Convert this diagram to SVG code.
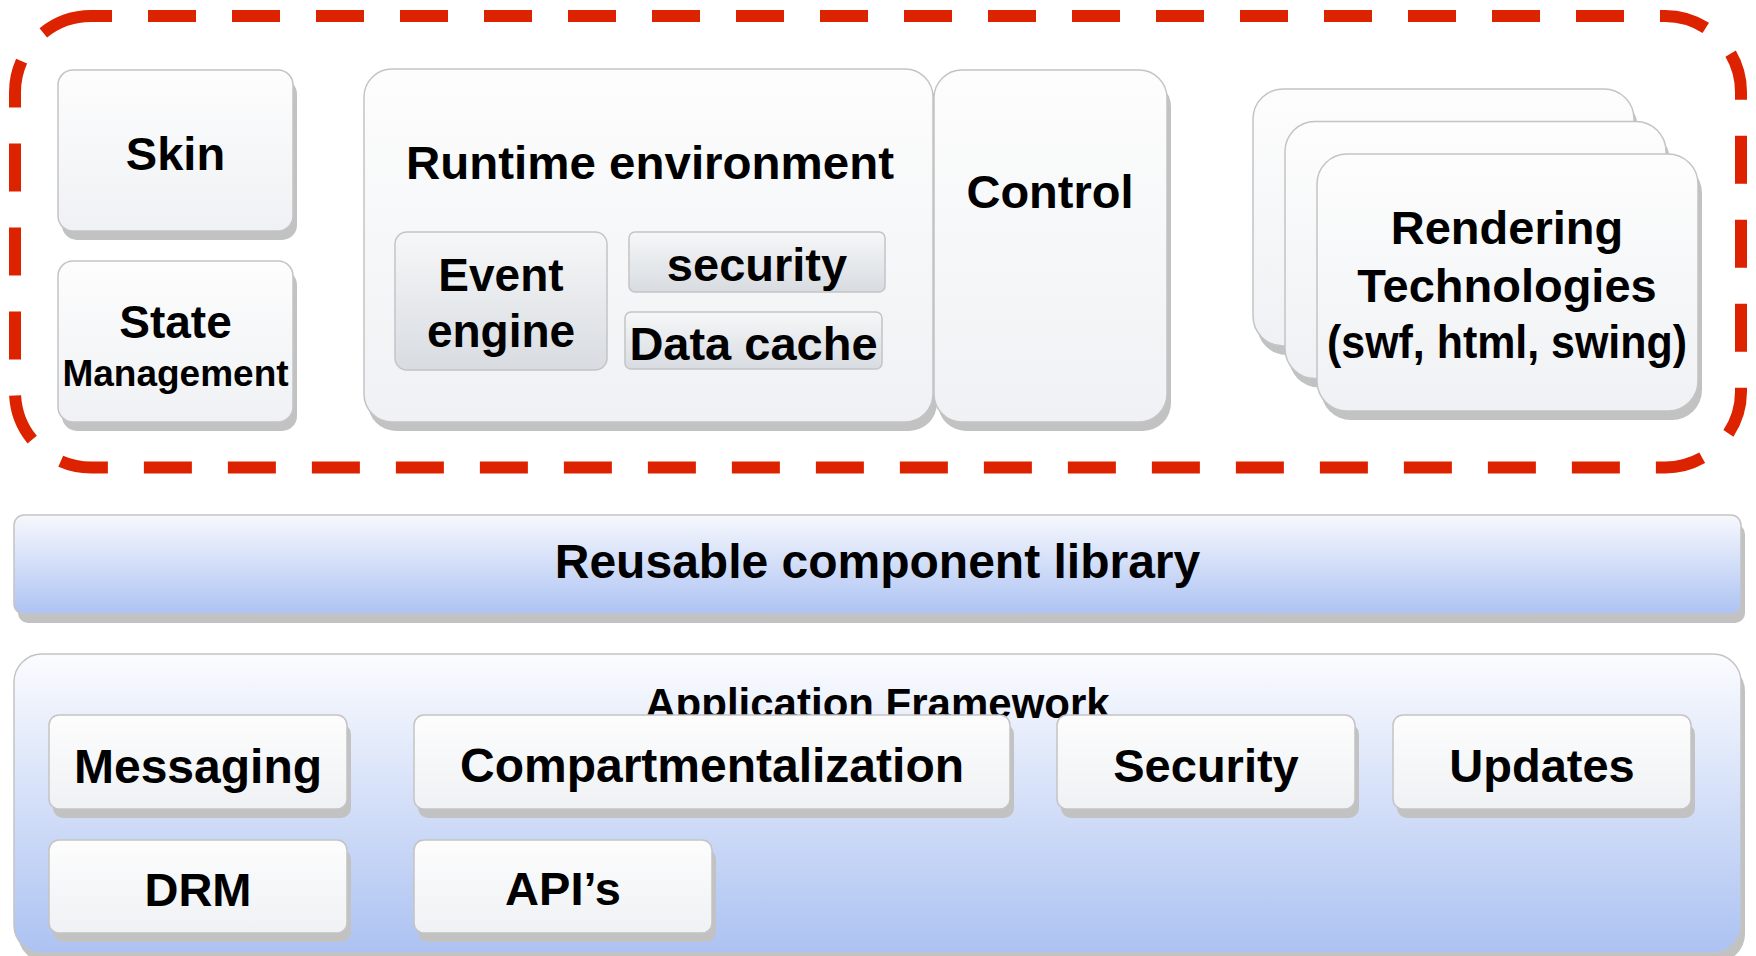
<svg xmlns="http://www.w3.org/2000/svg" width="1756" height="956" viewBox="0 0 1756 956">
  <defs>
    <linearGradient id="gWhite" x1="0" y1="0" x2="0" y2="1">
      <stop offset="0" stop-color="#fdfdfd"/>
      <stop offset="1" stop-color="#eff1f4"/>
    </linearGradient>
    <linearGradient id="gGray" x1="0" y1="0" x2="0" y2="1">
      <stop offset="0" stop-color="#f6f7f8"/>
      <stop offset="1" stop-color="#d8dce1"/>
    </linearGradient>
    <linearGradient id="gBar" x1="0" y1="0" x2="0" y2="1">
      <stop offset="0" stop-color="#f7f8fd"/>
      <stop offset="1" stop-color="#adc3f3"/>
    </linearGradient>
    <linearGradient id="gFrame" x1="0" y1="0" x2="0" y2="1">
      <stop offset="0" stop-color="#fbfcfe"/>
      <stop offset="1" stop-color="#acc2f2"/>
    </linearGradient>
  </defs>
  <style>
    .shadow{fill:#c2c2c2}
    .box{fill:url(#gWhite);stroke:#c4c4c4;stroke-width:1.5}
    .inner{fill:url(#gGray);stroke:#c4c4c4;stroke-width:1.5}
    .bar{fill:url(#gBar);stroke:#c4c4c4;stroke-width:1.5}
    .frame{fill:url(#gFrame);stroke:#c4c4c4;stroke-width:1.5}
    .dash{fill:none;stroke:#dd2200;stroke-width:12;stroke-linecap:butt}
    text{font-family:"Liberation Sans",Arial,Helvetica,sans-serif;font-weight:bold;fill:#000;text-anchor:middle}
  </style>

  <rect width="1756" height="956" fill="#ffffff"/>

  <!-- dashed boundary of the presentation layer -->
  <g id="presentation-boundary">
    <path class="dash" stroke-dasharray="48 36" d="M148,16 H1665 A76,76 0 0 1 1741,92 V391.5 A76,76 0 0 1 1665,467.5 H91 A76,76 0 0 1 15,391.5 V92 A76,76 0 0 1 21.6,61.1"/>
    <path class="dash" d="M43.3,32.8 A76,76 0 0 1 91,16 H112"/>
  </g>

  <g id="skin">
    <rect class="shadow" x="62" y="79" width="235" height="161" rx="15"/>
    <rect class="box" x="58" y="70" width="235" height="161" rx="15"/>
    <text x="175.5" y="170" font-size="47">Skin</text>
  </g>

  <g id="state-management">
    <rect class="shadow" x="62" y="270" width="235" height="161" rx="15"/>
    <rect class="box" x="58" y="261" width="235" height="161" rx="15"/>
    <text x="175.5" y="338" font-size="46">State</text>
    <text x="175.5" y="386" font-size="37">Management</text>
  </g>

  <g id="runtime-environment">
    <rect class="shadow" x="368" y="78" width="569" height="353" rx="28"/>
    <rect class="box" x="364" y="69" width="569" height="353" rx="28"/>
    <text x="650" y="179" font-size="47" textLength="488" lengthAdjust="spacingAndGlyphs">Runtime environment</text>
  </g>

  <g id="event-engine">
    <rect class="inner" x="395" y="232" width="212" height="138" rx="12"/>
    <text x="501" y="291" font-size="46">Event</text>
    <text x="501" y="347" font-size="46">engine</text>
  </g>

  <g id="security-runtime">
    <rect class="inner" x="629" y="232" width="256" height="60" rx="6"/>
    <text x="757" y="281" font-size="47">security</text>
  </g>

  <g id="data-cache">
    <rect class="inner" x="625" y="312" width="257" height="57" rx="6"/>
    <text x="753.5" y="360" font-size="47">Data cache</text>
  </g>

  <g id="control">
    <rect class="shadow" x="938" y="79" width="233" height="352" rx="28"/>
    <rect class="box" x="934" y="70" width="233" height="352" rx="28"/>
    <text x="1050" y="208" font-size="47">Control</text>
  </g>

  <g id="rendering-technologies">
    <rect class="shadow" x="1257" y="98" width="381" height="257" rx="30"/>
    <rect class="box" x="1253" y="89" width="381" height="257" rx="30"/>
    <rect class="shadow" x="1289" y="130.5" width="381" height="257" rx="30"/>
    <rect class="box" x="1285" y="121.5" width="381" height="257" rx="30"/>
    <rect class="shadow" x="1321" y="163" width="381" height="257" rx="30"/>
    <rect class="box" x="1317" y="154" width="381" height="257" rx="30"/>
    <text x="1507" y="244" font-size="47">Rendering</text>
    <text x="1507" y="302" font-size="47">Technologies</text>
    <text x="1507" y="358" font-size="47" textLength="360" lengthAdjust="spacingAndGlyphs">(swf, html, swing)</text>
  </g>

  <g id="reusable-component-library">
    <rect class="shadow" x="18" y="524" width="1727" height="99" rx="10"/>
    <rect class="bar" x="14" y="515" width="1727" height="99" rx="10"/>
    <text x="877.5" y="578" font-size="48">Reusable component library</text>
  </g>

  <g id="application-framework">
    <rect class="shadow" x="18" y="663" width="1727" height="299" rx="28"/>
    <rect class="frame" x="14" y="654" width="1727" height="299" rx="28"/>
    <text x="877.5" y="718" font-size="42">Application Framework</text>
  </g>

  <g id="messaging">
    <rect class="shadow" x="53" y="724" width="298" height="94" rx="10"/>
    <rect class="box" x="49" y="715" width="298" height="94" rx="10"/>
    <text x="198" y="783" font-size="48">Messaging</text>
  </g>

  <g id="compartmentalization">
    <rect class="shadow" x="418" y="724" width="596" height="94" rx="10"/>
    <rect class="box" x="414" y="715" width="596" height="94" rx="10"/>
    <text x="712" y="782" font-size="48">Compartmentalization</text>
  </g>

  <g id="security">
    <rect class="shadow" x="1061" y="724" width="298" height="94" rx="10"/>
    <rect class="box" x="1057" y="715" width="298" height="94" rx="10"/>
    <text x="1206" y="782" font-size="47">Security</text>
  </g>

  <g id="updates">
    <rect class="shadow" x="1397" y="724" width="298" height="94" rx="10"/>
    <rect class="box" x="1393" y="715" width="298" height="94" rx="10"/>
    <text x="1542" y="782" font-size="47">Updates</text>
  </g>

  <g id="drm">
    <rect class="shadow" x="53" y="849" width="298" height="93" rx="10"/>
    <rect class="box" x="49" y="840" width="298" height="93" rx="10"/>
    <text x="198" y="906" font-size="47">DRM</text>
  </g>

  <g id="apis">
    <rect class="shadow" x="418" y="849" width="298" height="93" rx="10"/>
    <rect class="box" x="414" y="840" width="298" height="93" rx="10"/>
    <text x="563" y="905" font-size="47">API’s</text>
  </g>

  <g id="connectors"/>
</svg>
